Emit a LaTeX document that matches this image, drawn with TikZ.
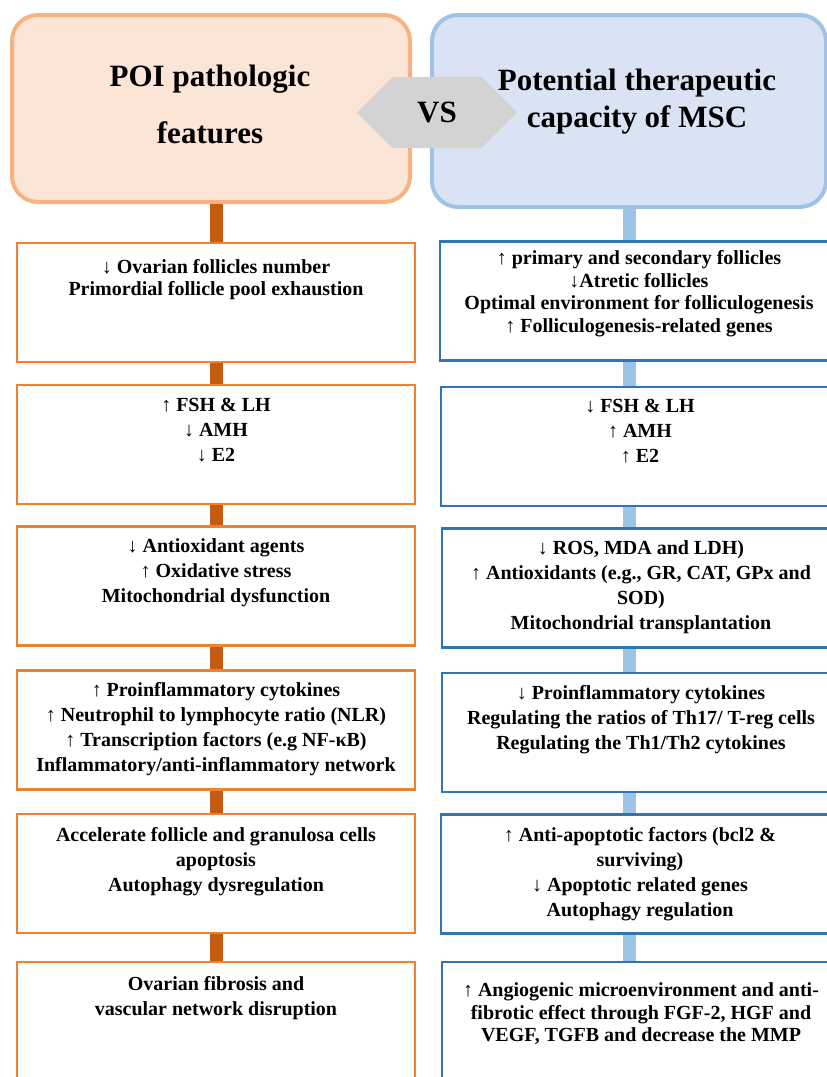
\documentclass[tikz,border=0pt]{standalone}
\usepackage{fontspec}
\setmainfont{Liberation Serif}
\usetikzlibrary{positioning,shapes.symbols}
\definecolor{peachfill}{HTML}{FBE5D6}
\definecolor{peachline}{HTML}{F8B282}
\definecolor{skyfill}{HTML}{DAE3F3}
\definecolor{skyline}{HTML}{9DC3E6}
\definecolor{orangeline}{HTML}{F0822F}
\definecolor{blueline}{HTML}{2E75B6}
\definecolor{rustbar}{HTML}{C55A11}
\definecolor{vsgray}{HTML}{D3D3D3}

\begin{document}
\begin{tikzpicture}[x=1pt,y=-1pt,
		head/.style={rounded corners=26pt,line width=4pt},
		pbox/.style={draw=orangeline,line width=2.5pt,minimum width=398pt,minimum height=119pt},
		tbox/.style={draw=blueline,line width=2.5pt,minimum width=398pt,minimum height=119pt},
		txt/.style={inner sep=0pt,align=center,font=\fontsize{20}{25}\selectfont\bfseries},
		tight/.style={font=\fontsize{20}{22.5}\selectfont\bfseries},
		lbar/.style={line width=13pt,color=rustbar},
		rbar/.style={line width=13pt,color=skyline}]
	\clip (0,0) rectangle (827,1077);
	% headers
	\node[head,draw=peachline,fill=peachfill,minimum width=398pt,minimum height=187pt] (l0) at (211,108.5) {};
	\node[head,draw=skyline,fill=skyfill,minimum width=394pt,minimum height=192pt] (r0) at (629,111) {};
	\node[inner sep=0pt,align=center,font=\fontsize{31}{57}\selectfont\bfseries] (l0t) at (210,104) {POI pathologic\\features};
	\node[inner sep=0pt,align=center,font=\fontsize{31}{37}\selectfont\bfseries] (r0t) at (637,102) {Potential therapeutic\\capacity of MSC};
	\node[signal,signal to=west and east,fill=vsgray,minimum width=160pt,minimum height=71pt,inner sep=0pt,
		font=\fontsize{31}{37}\selectfont\bfseries] (vs) at (437,112.5) {VS};
	% left column
	\node[pbox] (l1) at (216,302.5) {};
	\node[pbox] (l2) at (216,444.5) {};
	\node[pbox] (l3) at (216,586) {};
	\node[pbox] (l4) at (216,730) {};
	\node[pbox] (l5) at (216,873.5) {};
	\node[pbox] (l6) at (216,1021.5) {};
	\node[txt,tight,below=17pt of l1.north] (l1t) {↓ Ovarian follicles number\\Primordial follicle pool exhaustion};
	\node[txt,below=14pt of l2.north] (l2t) {↑ FSH \& LH\\↓ AMH\\↓ E2};
	\node[txt,below=13pt of l3.north] (l3t) {↓ Antioxidant agents\\↑ Oxidative stress\\Mitochondrial dysfunction};
	\node[txt,below=13pt of l4.north] (l4t) {↑ Proinflammatory cytokines\\↑ Neutrophil to lymphocyte ratio (NLR)\\↑ Transcription factors (e.g NF-κB)\\Inflammatory/anti-inflammatory network};
	\node[txt,below=14pt of l5.north] (l5t) {Accelerate follicle and granulosa cells\\apoptosis\\Autophagy dysregulation};
	\node[txt,below=15pt of l6.north] (l6t) {Ovarian fibrosis and\\vascular network disruption};
	% right column
	\node[tbox] (r1) at (639,301) {};
	\node[tbox] (r2) at (640,446.5) {};
	\node[tbox] (r3) at (641,588) {};
	\node[tbox] (r4) at (641,732.5) {};
	\node[tbox] (r5) at (640,874) {};
	\node[tbox] (r6) at (641,1021.5) {};
	\node[txt,tight,below=10pt of r1.north] (r1t) {↑ primary and secondary follicles\\↓Atretic follicles\\Optimal environment for folliculogenesis\\↑ Folliculogenesis-related genes};
	\node[txt,below=13pt of r2.north] (r2t) {↓ FSH \& LH\\↑ AMH\\↑ E2};
	\node[txt,below=13pt of r3.north] (r3t) {↓ ROS, MDA and LDH)\\↑ Antioxidants (e.g., GR, CAT, GPx and\\SOD)\\Mitochondrial transplantation};
	\node[txt,below=13pt of r4.north] (r4t) {↓ Proinflammatory cytokines\\Regulating the ratios of Th17/ T-reg cells\\Regulating the Th1/Th2 cytokines};
	\node[txt,below=14pt of r5.north] (r5t) {↑ Anti-apoptotic factors (bcl2 \&\\surviving)\\↓ Apoptotic related genes\\Autophagy regulation};
	\node[txt,tight,below=22pt of r6.north] (r6t) {↑ Angiogenic microenvironment and anti-\\fibrotic effect through FGF-2, HGF and\\VEGF, TGFB and decrease the MMP};
	% bars
	\foreach \i/\j in {0/1,1/2,2/3,3/4,4/5,5/6}
	{
		\draw[lbar] (l\i.south -| l\j.north) -- (l\j.north);
		\draw[rbar] (r\i.south -| r0.south) -- (r\j.north -| r0.south);
	}
\end{tikzpicture}
\end{document}
